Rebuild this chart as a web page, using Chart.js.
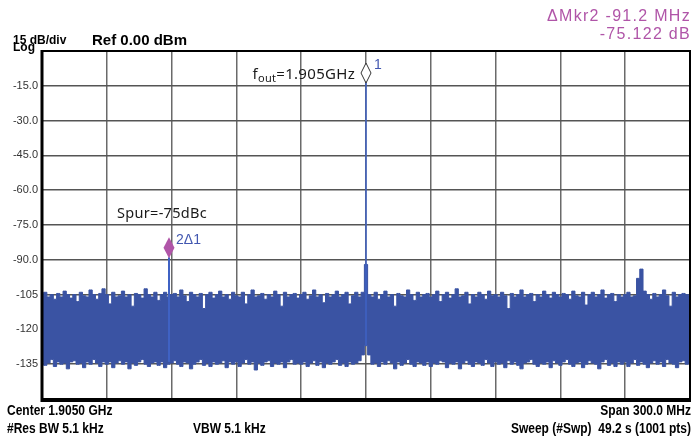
<!DOCTYPE html>
<html>
<head>
<meta charset="utf-8">
<script src="https://cdn.jsdelivr.net/npm/chart.js@4.4.1/dist/chart.umd.min.js"></script>
<style>
  html, body { margin: 0; padding: 0; background: #fff; }
  canvas { display: block; }
</style>
</head>
<body>
<canvas id="spectrum" width="695" height="441"></canvas>
<script>
// ==============================
// sweep settings
// ==============================
const FREQ_START = 1755;   // MHz
const FREQ_STOP = 2055;    // MHz
const FREQ_STEP = 1.5;     // MHz per trace bin
const REF_LEVEL = 0;
const DB_PER_DIV = 15;

const yTickLabels = ["-15.0", "-30.0", "-45.0", "-60.0", "-75.0", "-90.0", "-105", "-120", "-135"];

// carrier + delta marker readout
const CARRIER_FREQ = 1905;
const CARRIER_PEAK = -13.8;
const CARRIER_FLOOR = -127;
const DELTA_FREQ = -91.2;
const DELTA_LEVEL = -75.122;
const SPUR_FLOOR = -134;

// noise trace, upper and lower envelope per bin (dBm)
const noiseTop = [
  -105.5, -104, -106, -105, -107, -104.5, -106, -103.5, -105, -106.5, -105, -108, -104, -105.5, -106, -103, -105, -107, -104.5, -102.5,
  -105, -109, -104, -106, -105.5, -103.5, -106, -105, -110, -104.5, -105, -106.5, -102.5, -105, -106, -104, -107.5, -105, -104, -106,
  -105, -104.5, -106, -103, -105.5, -108, -104, -105, -106, -104.5, -111, -105, -104, -106.5, -105, -103.5, -106, -105, -107, -104,
  -105.5, -106, -104, -109, -105, -103, -106, -105.5, -104.5, -107, -105, -106, -103.5, -105, -110, -104, -106, -105, -104.5, -106.5,
  -105, -104, -107, -105.5, -103, -106, -105, -108.5, -104.5, -106, -105, -103.5, -106, -105, -104, -109, -105.5, -104, -106, -104,
  -92, -105, -106, -104, -107, -105, -103.5, -106, -105, -110, -104.5, -105.5, -106, -103, -105, -107.5, -104, -106, -105, -104.5,
  -106, -105, -103.5, -108, -105, -104, -106.5, -105, -102.5, -106, -105.5, -104, -109, -105, -106, -104, -105, -107, -103.5, -105.5,
  -105, -106, -104, -105.5, -111, -104.5, -106, -105, -103, -106, -105, -104.5, -108, -105, -106, -103.5, -105, -106.5, -104, -105,
  -106, -104.5, -105, -107, -103.5, -105.5, -106, -104, -109.5, -105, -104, -106, -105, -103, -106.5, -105, -104.5, -108, -105, -106,
  -105, -104, -106, -105.5, -98, -94, -103.5, -105, -107, -104.5, -106, -105, -103, -105.5, -110, -104, -106, -105, -104.5, -105,
  -105.5
];

const noiseBottom = [
  -134, -135.5, -134.5, -133, -136, -134, -135, -134.5, -137, -134, -133.5, -135, -134.5, -136.5, -134, -135, -133, -134.5, -136, -134,
  -135, -134, -136.5, -134.5, -133.5, -135, -134, -137, -134.5, -135.5, -134, -133, -135, -136, -134.5, -134, -135.5, -134, -136.5, -135,
  -134.5, -133.5, -135, -136, -134, -134.5, -137, -135, -134, -133, -135.5, -134.5, -136, -134, -135, -134.5, -133.5, -136.5, -134, -135,
  -134, -136, -134.5, -133, -135, -134, -137.5, -134.5, -135.5, -134, -133.5, -136, -134.5, -135, -134, -136.5, -134, -133, -135, -134.5,
  -135, -134, -136, -134.5, -133.5, -135.5, -134, -136.5, -134.5, -135, -134, -133, -135.5, -134.5, -136, -134, -135, -134.5, -133.5, -131,
  -127, -131, -135, -134.5, -136, -134, -135, -133.5, -134.5, -137, -134, -135.5, -134.5, -133, -135, -136, -134, -134.5, -135.5, -134,
  -136, -134.5, -135, -133.5, -134, -136.5, -134.5, -135, -134, -137, -134.5, -133.5, -135, -136, -134, -134.5, -135.5, -133, -134.5, -136,
  -134, -135, -134.5, -136.5, -133.5, -135, -134, -135.5, -137, -134.5, -134, -133, -135, -136, -134.5, -135, -134, -136.5, -133.5, -134.5,
  -135.5, -134, -133, -135, -136, -134.5, -134, -136.5, -135, -133.5, -134.5, -135, -137, -134, -133, -135.5, -134.5, -136, -134, -135,
  -134, -136, -134.5, -133, -135.5, -134, -135, -136.5, -134.5, -133.5, -135, -134, -136, -133, -134.5, -135, -136.5, -134, -133.5, -135,
  -134.5
];

const headerLeft = ["15 dB/div", "Log"];
const refLabel = "Ref 0.00 dBm";
const footerRow1 = ["Center 1.9050 GHz", "Span 300.0 MHz"];
const footerRow2 = ["#Res BW 5.1 kHz", "VBW 5.1 kHz", "Sweep (#Swp)  49.2 s (1001 pts)"];

const SPUR_FREQ = CARRIER_FREQ + DELTA_FREQ;
const SPUR_PEAK = CARRIER_PEAK + DELTA_LEVEL;

const TRACE_BLUE = "#3a53a3";
const LINE_BLUE = "#3f62c4";
const MARKER_MAGENTA = "#b055a8";
const LABEL_BLUE = "#4257b0";

const binFreqs = noiseTop.map((_, i) => FREQ_START + i * FREQ_STEP);

// ==============================
// text helpers
// ==============================
function condensedText(ctx, text, x, y, align, squeeze) {
  const w = ctx.measureText(text).width * squeeze;
  let left = x;
  if (align === "right") left = x - w;
  if (align === "center") left = x - w / 2;
  ctx.save();
  ctx.translate(left, y);
  ctx.scale(squeeze, 1);
  ctx.textAlign = "left";
  ctx.fillText(text, 0, 0);
  ctx.restore();
}

// ==============================
// frame, markers, annotations
// ==============================
const overlayPlugin = {
  id: "analyzerOverlay",

  afterDatasetsDraw(chart) {
    const ctx = chart.ctx;
    const { x, y } = chart.scales;
    const { left, right, top, bottom } = chart.chartArea;

    ctx.save();

    // frame
    ctx.strokeStyle = "#000";
    ctx.lineWidth = 2;
    ctx.strokeRect(left, top, right - left, bottom - top);
    ctx.lineWidth = 3;
    ctx.beginPath();
    ctx.moveTo(left, top - 1);
    ctx.lineTo(left, bottom + 1.5);
    ctx.lineTo(right + 1, bottom + 1.5);
    ctx.stroke();

    // marker 1 (hollow diamond on carrier)
    const cx = x.getPixelForValue(CARRIER_FREQ);
    const cy = y.getPixelForValue(CARRIER_PEAK);
    ctx.beginPath();
    ctx.moveTo(cx, cy - 20);
    ctx.lineTo(cx + 5, cy - 10);
    ctx.lineTo(cx, cy);
    ctx.lineTo(cx - 5, cy - 10);
    ctx.closePath();
    ctx.fillStyle = "#fff";
    ctx.fill();
    ctx.strokeStyle = "#333";
    ctx.lineWidth = 1;
    ctx.stroke();

    // marker 2 (filled delta marker on spur)
    const sx = x.getPixelForValue(SPUR_FREQ);
    const sy = y.getPixelForValue(SPUR_PEAK);
    ctx.beginPath();
    ctx.moveTo(sx, sy - 20);
    ctx.lineTo(sx + 5.5, sy - 9.5);
    ctx.lineTo(sx, sy + 1);
    ctx.lineTo(sx - 5.5, sy - 9.5);
    ctx.closePath();
    ctx.fillStyle = MARKER_MAGENTA;
    ctx.fill();

    // marker labels
    ctx.fillStyle = LABEL_BLUE;
    ctx.textBaseline = "alphabetic";
    ctx.textAlign = "left";
    ctx.font = "14px 'Liberation Sans', Arial, sans-serif";
    ctx.fillText("1", cx + 8, cy - 14);
    ctx.fillText("2\u03941", sx + 7, sy - 13);

    // carrier note with subscript
    ctx.fillStyle = "#1a1a1a";
    const mainFont = "15px 'Noto Sans', sans-serif";
    const subFont = "11px 'Noto Sans', sans-serif";
    ctx.letterSpacing = "0.3px";
    const noteY = cy - 4;
    const partA = "f", partB = "out", partC = "=1.905GHz";
    ctx.font = mainFont;
    const wA = ctx.measureText(partA).width;
    const wC = ctx.measureText(partC).width;
    ctx.font = subFont;
    const wB = ctx.measureText(partB).width;
    const nx = cx - 11 - (wA + wB + wC);
    ctx.font = mainFont;
    ctx.fillText(partA, nx, noteY);
    ctx.font = subFont;
    ctx.fillText(partB, nx + wA, noteY + 3);
    ctx.font = mainFont;
    ctx.fillText(partC, nx + wA + wB, noteY);

    // spur note
    ctx.font = "14.5px 'Noto Sans', sans-serif";
    ctx.fillText("Spur=-75dBc", sx - 52, sy - 39);
    ctx.letterSpacing = "0px";

    ctx.restore();
  },

  afterDraw(chart) {
    const ctx = chart.ctx;
    const { right, top, bottom } = chart.chartArea;

    ctx.save();
    ctx.fillStyle = "#000";
    ctx.textBaseline = "alphabetic";

    // header
    ctx.font = "bold 12px 'Liberation Sans', Arial, sans-serif";
    ctx.textAlign = "left";
    ctx.fillText(headerLeft[0], 13, top - 7);
    ctx.fillText(headerLeft[1], 13, top);
    ctx.font = "bold 15px 'Liberation Sans', Arial, sans-serif";
    ctx.fillText(refLabel, 92, top - 6);

    // delta marker readout
    ctx.fillStyle = MARKER_MAGENTA;
    ctx.font = "16px 'Liberation Sans', Arial, sans-serif";
    ctx.letterSpacing = "1.3px";
    ctx.textAlign = "right";
    ctx.fillText("\u0394Mkr2 " + DELTA_FREQ.toFixed(1) + " MHz", right + 1, 21);
    ctx.fillText(DELTA_LEVEL.toFixed(3) + " dB", right + 1, 39);
    ctx.letterSpacing = "0px";

    // footer
    ctx.fillStyle = "#000";
    ctx.font = "bold 15px 'Liberation Sans', Arial, sans-serif";
    const sq = 0.8;
    condensedText(ctx, footerRow1[0], 7, bottom + 16, "left", sq);
    condensedText(ctx, footerRow1[1], right + 1, bottom + 16, "right", sq);
    condensedText(ctx, footerRow2[0], 7, bottom + 34, "left", sq);
    condensedText(ctx, footerRow2[1], 193, bottom + 34, "left", sq);
    condensedText(ctx, footerRow2[2], right + 1, bottom + 34, "right", sq);

    ctx.restore();
  },
};

// ==============================
// create
// ==============================
const chart = new Chart(document.getElementById("spectrum"), {
  type: "line",
  data: {
    datasets: [
      {
        label: "Carrier",
        data: [
          { x: CARRIER_FREQ, y: CARRIER_FLOOR },
          { x: CARRIER_FREQ, y: CARRIER_PEAK },
        ],
        borderColor: LINE_BLUE,
        borderWidth: 1.5,
        pointRadius: 0,
        fill: false,
      },
      {
        label: "Spur",
        data: [
          { x: SPUR_FREQ, y: SPUR_FLOOR },
          { x: SPUR_FREQ, y: SPUR_PEAK },
        ],
        borderColor: LINE_BLUE,
        borderWidth: 2,
        pointRadius: 0,
        fill: false,
      },
      {
        label: "Trace max",
        data: binFreqs.map((f, i) => ({ x: f, y: noiseTop[i] })),
        borderColor: TRACE_BLUE,
        borderWidth: 1,
        backgroundColor: TRACE_BLUE,
        pointRadius: 0,
        stepped: "middle",
        fill: { target: "+1" },
      },
      {
        label: "Trace min",
        data: binFreqs.map((f, i) => ({ x: f, y: noiseBottom[i] })),
        borderColor: TRACE_BLUE,
        borderWidth: 1,
        pointRadius: 0,
        stepped: "middle",
        fill: false,
      },
    ],
  },

  options: {
    responsive: false,
    animation: false,
    events: [],

    plugins: {
      legend: { display: false },
      tooltip: { enabled: false },
    },

    layout: {
      padding: { left: 0, top: 51, right: 5, bottom: 42 },
    },

    scales: {
      x: {
        type: "linear",
        min: FREQ_START,
        max: FREQ_STOP,
        ticks: { display: false, stepSize: 30 },
        grid: { color: "#6a6a6a", lineWidth: 1.5, drawTicks: false },
        border: { display: false },
        afterFit(scale) {
          scale.height = 0;
        },
      },
      y: {
        min: REF_LEVEL - DB_PER_DIV * 10,
        max: REF_LEVEL,
        ticks: {
          stepSize: DB_PER_DIV,
          padding: 4,
          color: "#333",
          font: { family: "'Liberation Sans', Arial, sans-serif", size: 11 },
          callback(value) {
            const idx = Math.round((REF_LEVEL - value) / DB_PER_DIV) - 1;
            return yTickLabels[idx] ?? "";
          },
        },
        grid: { color: "#555", lineWidth: 1.5, drawTicks: false },
        border: { display: false },
        afterFit(scale) {
          scale.width = 42;
        },
      },
    },
  },

  plugins: [overlayPlugin],
});
</script>
</body>
</html>
